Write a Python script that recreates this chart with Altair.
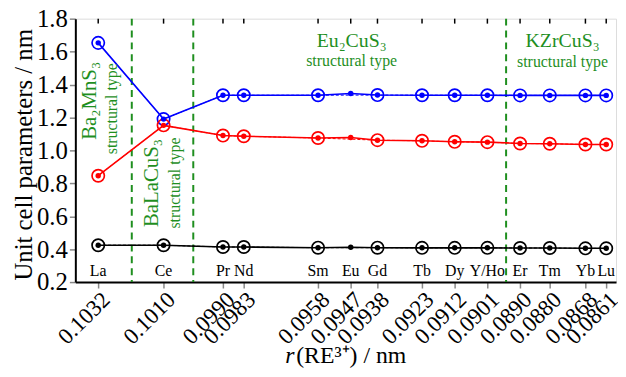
import altair as alt
import pandas as pd

elements = ["La", "Ce", "Pr", "Nd", "Sm", "Eu", "Gd", "Tb", "Dy", "Y/Ho", "Er", "Tm", "Yb", "Lu"]
radii = [0.1032, 0.1010, 0.0990, 0.0983, 0.0958, 0.0947, 0.0938, 0.0923, 0.0912, 0.0901,
         0.0890, 0.0880, 0.0868, 0.0861]
param_a = [1.653, 1.190, 1.335, 1.335, 1.335, 1.345, 1.336, 1.335, 1.335, 1.335, 1.334, 1.334, 1.334, 1.334]
param_b = [0.846, 1.152, 1.090, 1.086, 1.075, 1.078, 1.062, 1.058, 1.052, 1.050, 1.042, 1.040, 1.036, 1.036]
param_c = [0.424, 0.424, 0.413, 0.413, 0.409, 0.412, 0.409, 0.408, 0.408, 0.408, 0.407, 0.407, 0.405, 0.405]
has_circle = [True, True, True, True, True, False, True, True, True, True, True, True, True, True]
boundaries = [0.10207, 0.1000, 0.08947]
y_ticks = [0.2, 0.4, 0.6, 0.8, 1.0, 1.2, 1.4, 1.6, 1.8]

series_names = ["a", "b", "c"]
series_colors = ["#0000ff", "#ff0000", "#000000"]
GREEN = "#1f8f1f"
FONT = "Liberation Serif"

rows = []
for name, vals in zip(series_names, [param_a, param_b, param_c]):
    for el, r, v, c in zip(elements, radii, vals, has_circle):
        rows.append({"element": el, "r": r, "value": v, "param": name, "circle": c})
df = pd.DataFrame(rows)
df_circ = df[df["circle"]]
df_el = pd.DataFrame({"element": elements, "r": radii})
df_b = pd.DataFrame({"r": boundaries})

xscale = alt.Scale(domain=[0.08577, 0.10397], reverse=True, nice=False, zero=False)
yscale = alt.Scale(domain=[0.2, 1.8], nice=False, zero=False)
cscale = alt.Scale(domain=series_names, range=series_colors)

x_axis = alt.Axis(
    values=radii, format=".4f", labelAngle=-45, labelAlign="right", labelBaseline="top",
    labelFontSize=23, labelPadding=0, tickSize=6, tickWidth=1.5, title=None, grid=False,
    labelOverlap=False, labelFont=FONT, labelColor="black", domainColor="black", domainWidth=2)
y_axis = alt.Axis(
    values=y_ticks, format=".1f", labelFontSize=25, labelOverlap=False, tickCount=9,
    labelFont=FONT, labelColor="black", tickSize=6, tickWidth=1.5, grid=False,
    title="Unit cell parameters / nm", titleFont=FONT, titleFontSize=25, titleFontWeight="normal",
    titleColor="black", titleX=-52, titleY=137, titleBaseline="middle", titleAngle=-90,
    domainColor="black", domainWidth=2)
x_enc = alt.X("r:Q", scale=xscale, axis=x_axis)
y_enc = alt.Y("value:Q", scale=yscale, axis=y_axis)
c_enc = alt.Color("param:N", scale=cscale, legend=None)

bounds = alt.Chart(df_b).mark_rule(color=GREEN, strokeDash=[7, 5], strokeWidth=2).encode(x=x_enc)

lines = alt.Chart(df).mark_line(strokeWidth=1.6).encode(x=x_enc, y=y_enc, color=c_enc, detail="param:N")
dlines = alt.Chart(df_circ).mark_line(strokeWidth=1, strokeDash=[3, 2]).encode(
    x=x_enc, y=y_enc, color=c_enc, detail="param:N")
circles = alt.Chart(df_circ).mark_point(shape="circle", filled=False, size=155, strokeWidth=1.7, opacity=1).encode(
    x=x_enc, y=y_enc, color=c_enc)
dots = alt.Chart(df).mark_circle(size=30, opacity=1).encode(x=x_enc, y=y_enc, color=c_enc)

labels = alt.Chart(df_el).mark_text(font=FONT, fontSize=16, color="black", baseline="middle").encode(
    x=x_enc, y=alt.value(255), text="element:N")

top_ticks = alt.Chart(df_el).mark_rule(color="black", strokeWidth=1.5).encode(
    x=x_enc, y=alt.value(0), y2=alt.value(5))


def ann(text, x, y, size, angle=0):
    return alt.Chart(pd.DataFrame({"t": [text]})).mark_text(
        font=FONT, fontSize=size, color=GREEN, angle=angle, align="center", baseline="middle"
    ).encode(x=alt.value(x), y=alt.value(y), text="t:N")


anns = [
    ann("Ba₂MnS₃", 15, 83, 21, 270),
    ann("structural type", 37, 91, 16, 270),
    ann("BaLaCuS₃", 77, 166, 21, 270),
    ann("structural type", 101, 166, 16, 270),
    ann("Eu₂CuS₃", 279, 23, 20),
    ann("structural type", 279, 43, 16),
    ann("KZrCuS₃", 492, 23, 20),
    ann("structural type", 492, 44, 16),
]

xt1 = alt.Chart(pd.DataFrame({"t": ["r"]})).mark_text(
    font=FONT, fontSize=24, fontStyle="italic", color="black", align="left", baseline="alphabetic"
).encode(x=alt.value(212), y=alt.value(348), text="t:N")
xt2 = alt.Chart(pd.DataFrame({"t": ["(RE³⁺) / nm"]})).mark_text(
    font=FONT, fontSize=24, color="black", align="left", baseline="alphabetic"
).encode(x=alt.value(223), y=alt.value(348), text="t:N")

chart = alt.layer(bounds, lines, dlines, circles, dots, labels, top_ticks, *anns, xt1, xt2).properties(
    width=546, height=266,
    autosize=alt.AutoSizeParams(type="none"),
    padding={"left": 68, "top": 9, "right": 2, "bottom": 86},
).configure_view(stroke="black", strokeWidth=2).configure(background="white")

chart.save("out.html", embed_options={"renderer": "svg", "actions": False})
